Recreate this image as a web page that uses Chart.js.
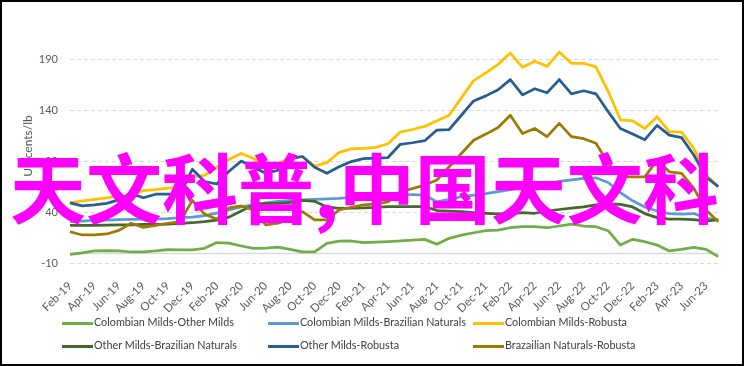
<!DOCTYPE html>
<html>
<head>
<meta charset="utf-8">
<script src="https://cdn.jsdelivr.net/npm/chart.js@4.4.0/dist/chart.umd.min.js"></script>
<style>
  body { margin: 0; background: #fff; }
  #wrap { position: relative; width: 744px; height: 366px; }
  #frame { position: absolute; left: 0; top: 0; width: 744px; height: 366px; box-sizing: border-box; border: 2px solid #000; pointer-events: none; }
  #legend { position: absolute; left: 0; top: 0; width: 744px; height: 366px; font-family: Lato, sans-serif; font-size: 10.8px; color: #404040; pointer-events: none; }
  .item { position: absolute; height: 16px; line-height: 16px; white-space: nowrap; }
  .item i { display: inline-block; width: 31px; height: 3px; vertical-align: middle; margin-right: 1px; }
  #stamp { position: absolute; left: 10px; top: 147px; font-family: "Noto Sans CJK SC"; font-weight: bold; font-size: 76px; line-height: 76px; color: #ff00ff; white-space: nowrap; }
</style>
</head>
<body>
<div id="wrap">
  <canvas id="chart" width="744" height="366"></canvas>
  <div id="legend"></div>
  <div id="stamp">天文科普,中国天文科</div>
  <div id="frame"></div>
</div>
<script>
// months on the x axis
var months = ['Feb-19','Mar-19','Apr-19','May-19','Jun-19','Jul-19','Aug-19','Sep-19','Oct-19','Nov-19','Dec-19',
  'Jan-20','Feb-20','Mar-20','Apr-20','May-20','Jun-20','Jul-20','Aug-20','Sep-20','Oct-20','Nov-20','Dec-20',
  'Jan-21','Feb-21','Mar-21','Apr-21','May-21','Jun-21','Jul-21','Aug-21','Sep-21','Oct-21','Nov-21','Dec-21',
  'Jan-22','Feb-22','Mar-22','Apr-22','May-22','Jun-22','Jul-22','Aug-22','Sep-22','Oct-22','Nov-22','Dec-22',
  'Jan-23','Feb-23','Mar-23','Apr-23','May-23','Jun-23','Jul-23'];

var yTicks = [-10, 40, 90, 140, 190];

// price differentials, US cents/lb
var colOther = [-1.5, 0, 1.8, 2.2, 2, 0.8, 1, 1.8, 3.2, 3,
  2.8, 4.4, 10, 9.5, 6.7, 4.4, 4.6, 5.5, 3.4, 1,
  1, 9.3, 11.5, 11.6, 10, 10.5, 11, 11.6, 12.5, 13.2,
  8.3, 14.2, 17.4, 19.7, 21.7, 22.3, 24.6, 25.6, 25.6, 24.6,
  26.3, 28.2, 26.3, 25.6, 21.7, 7.6, 13.2, 10.9, 7.6, 1.8,
  3.4, 5.4, 3.4, -3.8];
var colBraz = [30.5, 31, 32, 32, 32.5, 32.8, 33, 33, 33.5, 34.5,
  35, 36.5, 39, 42, 45, 47, 49, 50.5, 51.5, 52,
  52.5, 53, 53.5, 54.5, 55.5, 56.5, 57.5, 57, 57, 56.5,
  50, 52.5, 55, 56.5, 58, 60, 62, 64, 66, 68,
  70, 71.5, 73, 73.6, 69, 59, 51, 45, 41, 38.5,
  38, 38.5, 34, 32];
var colRob = [49, 51, 52.5, 54, 55.5, 56.5, 61, 62, 63.5, 65,
  74.5, 76, 84, 91.5, 97.5, 92.5, 86, 87.5, 93.5, 94.5,
  85, 88.5, 98.5, 102, 102.5, 103.5, 107, 118.5, 121, 124,
  129.5, 135, 152, 169, 176.5, 185, 196, 182, 188, 183,
  197, 186, 186, 182.5, 158.5, 130.5, 129.5, 122, 133.5, 119,
  118.5, 102.5, 76.5, 65];
var omBraz = [27, 27, 27, 27.2, 27.3, 27.5, 27.8, 28, 28.2, 29,
  29.5, 30.5, 32, 35, 41, 47, 48.5, 48.5, 49.5, 51.5,
  50.5, 45, 43.5, 43.8, 44, 44.5, 45.4, 45.4, 45.4, 45.4,
  41.5, 41, 40.4, 39.5, 38.8, 38.2, 38.5, 39.5, 38.8, 41,
  42.5, 43.8, 45, 47, 48, 47.5, 45, 38.5, 34.5, 33,
  33, 32.5, 31, 32.5];
var omRob = [49, 46, 47, 48.5, 52, 58, 54, 57.5, 57.5, 57.5,
  82, 70, 67.5, 80, 90, 84, 78, 81, 92.5, 94.5,
  84, 78, 84.5, 89.5, 92.5, 93, 93.5, 106.5, 108, 110,
  120.5, 121, 135, 149, 154, 160, 170, 155, 161, 157,
  170, 156, 159, 156, 138.5, 122, 116.5, 111, 125, 115.5,
  113, 96, 74.5, 65];
var braRob = [20.7, 17.5, 17.5, 18.5, 22, 29, 25, 27, 29, 30.5,
  51.5, 38, 33, 44, 46, 42, 27.5, 29, 33, 40.5,
  32.3, 32.3, 42, 44.7, 47, 48, 50, 60, 63, 66.5,
  71.5, 84.5, 97.5, 110.5, 116.5, 123, 135, 117, 122, 114,
  127, 114, 112, 107.5, 88, 74.5, 74.5, 74.5, 91, 79.5,
  78, 63.5, 42, 30.5];

var seriesNames = ['Colombian Milds-Other Milds', 'Colombian Milds-Brazilian Naturals', 'Colombian Milds-Robusta',
  'Other Milds-Brazilian Naturals', 'Other Milds-Robusta', 'Brazailian Naturals-Robusta'];
var seriesData = [colOther, colBraz, colRob, omBraz, omRob, braRob];
var seriesColors = ['#70ad47', '#5b9bd5', '#ffc000', '#43682b', '#255e91', '#9e7a00'];

// solid line at zero (category axis crossing)
var zeroLine = {
  id: 'zeroLine',
  beforeDatasetsDraw: function(chart) {
    var y = Math.round(chart.scales.y.getPixelForValue(0)) + 0.5;
    var ctx = chart.ctx;
    ctx.save();
    ctx.strokeStyle = '#d9d9d9';
    ctx.lineWidth = 1.5;
    ctx.beginPath();
    ctx.moveTo(chart.chartArea.left, y);
    ctx.lineTo(chart.chartArea.right, y);
    ctx.stroke();
    ctx.restore();
  }
};

// y axis title, sits a little above the plot middle like in excel
var yTitle = {
  id: 'yTitle',
  afterDraw: function(chart) {
    var ctx = chart.ctx;
    ctx.save();
    ctx.translate(28, 146);
    ctx.rotate(-Math.PI / 2);
    ctx.font = '12px Lato, sans-serif';
    ctx.fillStyle = '#595959';
    ctx.textAlign = 'center';
    ctx.textBaseline = 'middle';
    ctx.fillText('US cents/lb', 0, 0);
    ctx.restore();
  }
};

Chart.defaults.font.family = 'Lato, sans-serif';
Chart.defaults.color = '#595959';

var chart = new Chart(document.getElementById('chart').getContext('2d'), {
  type: 'line',
  data: {
    labels: months,
    datasets: seriesData.map(function(d, i) {
      return {
        label: seriesNames[i],
        data: d,
        borderColor: seriesColors[i],
        backgroundColor: seriesColors[i],
        borderWidth: 2.75,
        pointRadius: 0,
        tension: 0,
        fill: false,
        borderJoinStyle: 'round',
        order: seriesData.length - i
      };
    })
  },
  options: {
    responsive: false,
    animation: false,
    layout: { padding: { left: 16, top: 49, right: 18, bottom: 0 } },
    plugins: { legend: { display: false }, tooltip: { enabled: false } },
    scales: {
      x: {
        grid: { display: false, drawTicks: false },
        border: { display: false },
        ticks: {
          autoSkip: false, maxRotation: 45, minRotation: 45, padding: 16,
          font: { size: 11.5 },
          callback: function(v, i) { return i % 2 === 0 ? months[i] : ''; }
        },
        afterFit: function(s) { s.height = 103; }
      },
      y: {
        min: -10, max: 200,
        afterBuildTicks: function(s) { s.ticks = yTicks.map(function(v) { return { value: v }; }); },
        grid: { color: '#d9d9d9', drawTicks: false },
        border: { display: false, dash: [4, 3] },
        ticks: { padding: 12, font: { size: 11 } },
        afterFit: function(s) { s.width = 54; }
      }
    }
  },
  plugins: [zeroLine, yTitle]
});

// legend, laid out in three columns like the original
var legendCols = [62, 268, 473];
var legendRows = [322, 345];
var legend = document.getElementById('legend');
chart.data.datasets.forEach(function(ds, i) {
  var el = document.createElement('div');
  el.className = 'item';
  el.style.left = legendCols[i % 3] + 'px';
  el.style.top = (legendRows[Math.floor(i / 3)] - 8) + 'px';
  el.innerHTML = '<i style="background:' + ds.borderColor + '"></i>' + ds.label;
  legend.appendChild(el);
});
</script>
</body>
</html>
